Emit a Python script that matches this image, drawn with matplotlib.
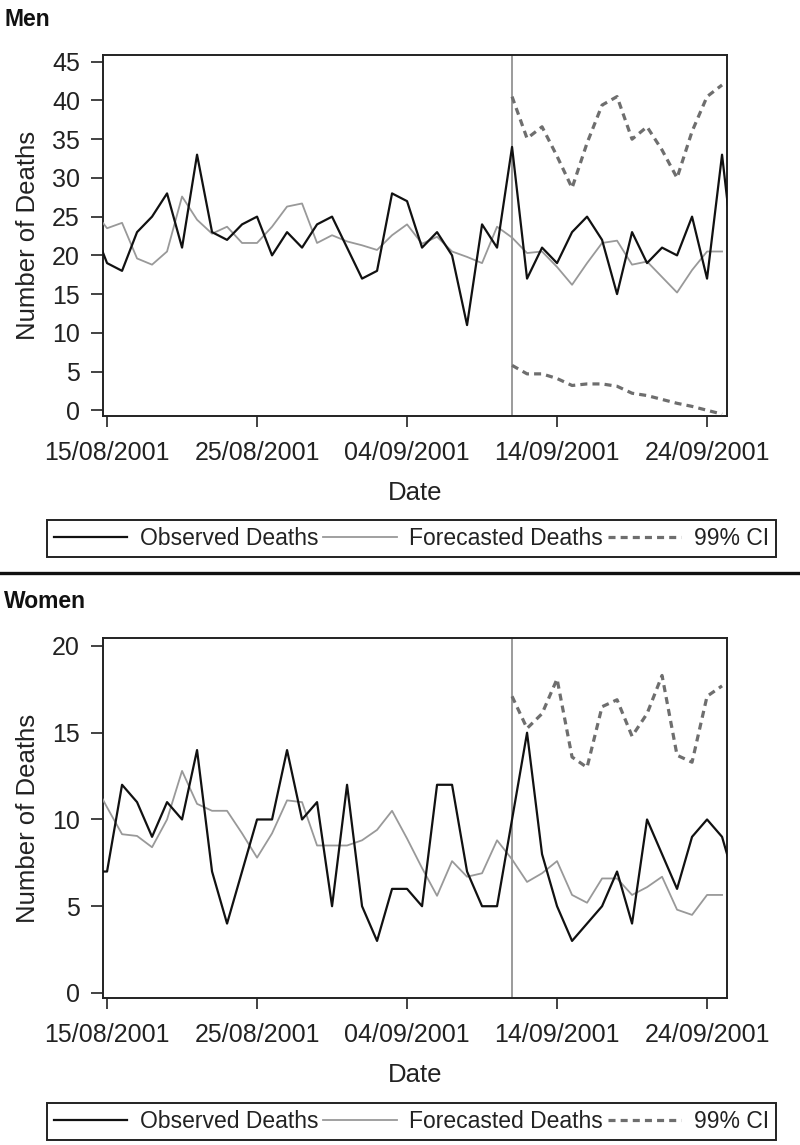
import matplotlib
matplotlib.use("Agg")
import matplotlib.pyplot as plt
import matplotlib.dates as mdates
from matplotlib.lines import Line2D
import pandas as pd

plt.rcParams['font.family'] = ['Liberation Sans', 'DejaVu Sans']

# ---------------- data ----------------
# observed deaths: daily, 14/08/2001 .. 26/09/2001
obs_dates = pd.date_range('2001-08-14', '2001-09-26', freq='D')
# forecast: 14/08/2001 .. 25/09/2001
fc_dates = pd.date_range('2001-08-14', '2001-09-25', freq='D')
# CI: 11/09/2001 .. 25/09/2001
ci_dates = pd.date_range('2001-09-11', '2001-09-25', freq='D')
event_date = pd.Timestamp('2001-09-11')

men_observed = [24, 19, 18, 23, 25, 28, 21, 33, 23, 22, 24, 25, 20, 23, 21,
                24, 25, 21, 17, 18, 28, 27, 21, 23, 20, 11, 24, 21, 34, 17,
                21, 19, 23, 25, 22, 15, 23, 19, 21, 20, 25, 17, 33, 16]
men_forecast = [26.0, 23.5, 24.2, 19.6, 18.8, 20.5, 27.6, 24.6, 22.8, 23.7,
                21.6, 21.6, 23.7, 26.3, 26.7, 21.6, 22.6, 21.8, 21.3, 20.7,
                22.6, 24.0, 21.5, 22.4, 20.5, 19.8, 19.0, 23.7, 22.3, 20.3,
                20.5, 18.5, 16.2, 19.0, 21.6, 21.9, 18.8, 19.2, 17.2, 15.2,
                18.1, 20.5, 20.5]
men_ci_upper = [40.5, 35.1, 36.6, 32.8, 28.7, 34.5, 39.4, 40.5, 35.0, 36.6,
                33.6, 30.0, 36.0, 40.5, 42.0]
men_ci_lower = [5.8, 4.7, 4.7, 4.1, 3.2, 3.4, 3.4, 3.1, 2.2, 1.9, 1.4, 0.9,
                0.5, 0.0, -0.5]

women_observed = [7, 7, 12, 11, 9, 11, 10, 14, 7, 4, 7, 10, 10, 14, 10,
                  11, 5, 12, 5, 3, 6, 6, 5, 12, 12, 7, 5, 5, 10, 15,
                  8, 5, 3, 4, 5, 7, 4, 10, 8, 6, 9, 10, 9, 6]
women_forecast = [12.3, 10.7, 9.15, 9.05, 8.4, 10.0, 12.8, 10.9, 10.5, 10.5,
                  9.2, 7.8, 9.2, 11.1, 11.0, 8.5, 8.5, 8.5, 8.8, 9.4,
                  10.5, 8.9, 7.2, 5.6, 7.6, 6.7, 6.9, 8.8, 7.7, 6.4,
                  6.9, 7.6, 5.65, 5.2, 6.6, 6.6, 5.65, 6.1, 6.7, 4.8,
                  4.5, 5.65, 5.65]
women_ci_upper = [17.1, 15.25, 16.1, 18.1, 13.6, 13.0, 16.5, 16.9, 14.8, 16.1,
                  18.3, 13.7, 13.3, 17.1, 17.7]

tick_dates = pd.to_datetime(['2001-08-15', '2001-08-25', '2001-09-04',
                             '2001-09-14', '2001-09-24'])
men_yticks = [0, 5, 10, 15, 20, 25, 30, 35, 40, 45]
women_yticks = [0, 5, 10, 15, 20]
legend_labels = ['Observed Deaths', 'Forecasted Deaths', '99% CI']

# ---------------- figure ----------------
W, H = 800, 1145
fig = plt.figure(figsize=(W / 100, H / 100), dpi=100)

def fx(px):
    return px / W

def fy(py):
    return 1 - py / H

day0 = pd.Timestamp('2001-08-15')
xlim = (day0 + pd.Timedelta(days=-0.27), day0 + pd.Timedelta(days=41.33))

def panel(top_px, bottom_px, observed, forecast, upper, lower, yticks, ylim):
    ax = fig.add_axes([fx(103), fy(bottom_px), fx(727) - fx(103),
                       fy(top_px) - fy(bottom_px)])
    ax.plot(obs_dates, observed, color='#111111', lw=1.6, zorder=4)
    ax.plot(fc_dates, forecast, color='#999999', lw=1.3, zorder=3)
    ax.plot(ci_dates, upper, color='#6e6e6e', lw=2.3, ls=(0, (2.2, 1.6)), zorder=3)
    if lower is not None:
        ax.plot(ci_dates, lower, color='#6e6e6e', lw=2.3, ls=(0, (2.2, 1.6)), zorder=3)
    ax.axvline(event_date, color='#808080', lw=1.1, zorder=2)
    ax.set_xlim(xlim)
    ax.set_ylim(ylim)
    ax.set_yticks(yticks)
    ax.set_xticks(tick_dates)
    ax.xaxis.set_major_formatter(mdates.DateFormatter('%d/%m/%Y'))
    for s in ax.spines.values():
        s.set_linewidth(1.4)
        s.set_color('#222222')
    ax.tick_params(axis='y', length=8.6, width=1.2, pad=8, labelsize=18,
                   colors='#222222')
    ax.tick_params(axis='x', length=8, width=1.2, pad=10, labelsize=18,
                   colors='#222222')
    ax.set_ylabel('Number of Deaths', fontsize=18.5, color='#222222', va='center')
    ax.yaxis.set_label_coords(-75 / 624, 0.5)
    ax.set_xlabel('Date', fontsize=18.5, color='#222222', va='center')
    ax.xaxis.set_label_coords(0.5, -77 / (bottom_px - top_px))
    return ax

ax1 = panel(55, 416, men_observed, men_forecast, men_ci_upper, men_ci_lower,
            men_yticks, (-0.74, 45.87))
ax2 = panel(638, 998, women_observed, women_forecast, women_ci_upper, None,
            women_yticks, (-0.29, 20.46))

fig.text(fx(4), fy(19), 'Men', fontsize=16.5, fontweight='bold', va='center',
         ha='left', color='#111111')
fig.text(fx(4), fy(601), 'Women', fontsize=16.5, fontweight='bold', va='center',
         ha='left', color='#111111')

fig.add_artist(Line2D([0, 1], [fy(573), fy(573)], transform=fig.transFigure,
                      color='#111111', lw=2.4))

handles = [Line2D([], [], color='#111111', lw=1.6),
           Line2D([], [], color='#999999', lw=1.3),
           Line2D([], [], color='#6e6e6e', lw=2.3, ls=(0, (2.2, 1.6)))]

for top_px, bot_px in [(518, 559), (1101, 1142)]:
    leg = fig.legend(handles, legend_labels, loc='center',
                     bbox_to_anchor=(fx(47), fy(bot_px), fx(776) - fx(47),
                                     fy(top_px) - fy(bot_px)),
                     bbox_transform=fig.transFigure, mode='expand', ncol=3,
                     fontsize=16.5, handlelength=3.2, handletextpad=0.55,
                     columnspacing=0.5, borderaxespad=0, borderpad=0.3,
                     fancybox=False, framealpha=1, edgecolor='#222222')
    leg.get_frame().set_linewidth(1.4)
    for t in leg.get_texts():
        t.set_color('#222222')

fig.savefig('out.png', dpi=100)
